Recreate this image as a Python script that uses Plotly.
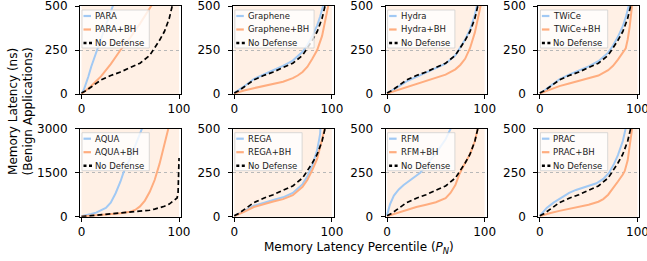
import plotly.graph_objects as go

# ---------------- data (percentile -> latency in ns) ----------------
ND_P = [0, 5, 10, 20, 30, 40, 50, 60, 70, 75, 80, 85, 90, 93, 95, 97, 98, 99, 99.5, 100]
ND_V = [5, 20, 40, 80, 105, 125, 150, 175, 220, 260, 305, 355, 430, 500, 540, 590, 640, 800, 1200, 2000]

PARA_P = [0, 2.5, 7, 10, 16, 24, 32, 36]
PARA_V = [0, 25, 98, 155, 250, 375, 500, 560]
PARA_BH_P = [0, 5, 10, 20, 30, 40, 50, 60, 72, 76]
PARA_BH_V = [0, 20, 45, 100, 170, 250, 320, 400, 500, 540]

GRAPHENE_P = [0, 5, 10, 20, 30, 40, 50, 60, 70, 75, 80, 85, 88, 91, 95, 100]
GRAPHENE_V = [5, 22, 43, 85, 112, 135, 160, 190, 240, 280, 330, 390, 440, 500, 650, 2000]
GRAPHENE_BH_P = [0, 5, 10, 20, 30, 40, 50, 60, 65, 70, 75, 80, 85, 90, 95, 97, 100]
GRAPHENE_BH_V = [3, 12, 20, 33, 45, 58, 70, 90, 105, 125, 155, 200, 250, 330, 450, 520, 2000]

HYDRA_P = [0, 5, 10, 20, 30, 40, 50, 60, 70, 75, 80, 85, 90, 92, 95, 100]
HYDRA_V = [4, 18, 36, 72, 97, 118, 143, 172, 220, 262, 310, 365, 450, 500, 620, 2000]
HYDRA_BH_P = [0, 5, 10, 20, 30, 40, 50, 60, 70, 75, 80, 85, 90, 95, 97, 100]
HYDRA_BH_V = [3, 12, 22, 40, 56, 72, 90, 110, 140, 165, 200, 260, 350, 460, 530, 2000]

TWICE_P = [0, 5, 10, 20, 30, 40, 50, 60, 70, 75, 80, 85, 88, 91, 95, 100]
TWICE_V = [5, 21, 42, 83, 110, 132, 157, 186, 235, 275, 325, 385, 435, 500, 640, 2000]
TWICE_BH_P = [0, 5, 10, 20, 30, 40, 50, 60, 70, 75, 80, 85, 88, 90, 92, 94, 96, 100]
TWICE_BH_V = [3, 14, 26, 45, 60, 75, 90, 105, 135, 160, 195, 235, 260, 310, 380, 480, 580, 2000]

AQUA_P = [0, 5, 10, 15, 20, 25, 30, 35, 40, 43, 50, 55, 62, 68]
AQUA_V = [20, 50, 90, 140, 210, 300, 480, 800, 1200, 1500, 2000, 2400, 3000, 3500]
AQUA_BH_P = [0, 10, 20, 30, 40, 50, 55, 60, 65, 70, 75, 80, 85, 89, 92]
AQUA_BH_V = [5, 30, 60, 90, 120, 170, 230, 350, 550, 850, 1250, 1800, 2450, 3000, 3400]

REGA_P = [0, 5, 10, 20, 30, 40, 50, 60, 70, 75, 80, 85, 88, 90, 95, 100]
REGA_V = [4, 16, 32, 62, 80, 95, 110, 135, 185, 230, 290, 380, 470, 560, 800, 2000]
REGA_BH_P = [0, 5, 10, 20, 30, 40, 50, 60, 70, 75, 80, 85, 90, 93, 95, 100]
REGA_BH_V = [3, 13, 27, 55, 72, 86, 100, 122, 170, 210, 265, 330, 440, 500, 560, 2000]

RFM_P = [0, 3, 7, 12, 17, 22, 27, 34, 40, 50, 60, 66, 72]
RFM_V = [10, 70, 120, 155, 180, 200, 222, 250, 290, 360, 440, 500, 580]
RFM_BH_P = [0, 5, 10, 20, 30, 40, 50, 60, 65, 70, 74, 78, 80, 85, 90, 93, 95, 100]
RFM_BH_V = [3, 12, 22, 40, 55, 68, 82, 105, 135, 180, 240, 285, 305, 355, 430, 500, 550, 2000]

PRAC_P = [0, 3, 7, 14, 20, 25, 30, 37, 45, 52, 58, 65, 71, 76, 80, 85, 88, 92]
PRAC_V = [5, 25, 50, 80, 100, 120, 135, 152, 165, 178, 190, 215, 250, 300, 350, 430, 500, 600]
PRAC_BH_P = [0, 5, 10, 20, 30, 40, 50, 60, 65, 70, 75, 80, 85, 87, 90, 93, 95, 100]
PRAC_BH_V = [3, 12, 20, 33, 45, 55, 68, 85, 100, 125, 160, 200, 240, 260, 320, 420, 520, 2000]

MECHANISMS = ["PARA", "Graphene", "Hydra", "TWiCe", "AQUA", "REGA", "RFM", "PRAC"]
DEF_SERIES = [(PARA_P, PARA_V), (GRAPHENE_P, GRAPHENE_V), (HYDRA_P, HYDRA_V), (TWICE_P, TWICE_V),
              (AQUA_P, AQUA_V), (REGA_P, REGA_V), (RFM_P, RFM_V), (PRAC_P, PRAC_V)]
BH_SERIES = [(PARA_BH_P, PARA_BH_V), (GRAPHENE_BH_P, GRAPHENE_BH_V), (HYDRA_BH_P, HYDRA_BH_V),
             (TWICE_BH_P, TWICE_BH_V), (AQUA_BH_P, AQUA_BH_V), (REGA_BH_P, REGA_BH_V),
             (RFM_BH_P, RFM_BH_V), (PRAC_BH_P, PRAC_BH_V)]

Y_TICKS = [0, 250, 500]
Y_TICKS_AQUA = [0, 1500, 3000]
X_TICKS = [0, 100]
SHADE_RANGE = [0, 100]

# ---------------- style ----------------
W, H = 647, 261
FONT = "DejaVu Sans"
BLUE = "#a1c9f4"
ORANGE = "#ffad7f"
BLACK = "#000000"
PEACH = "#fff0e5"
COL_LEFT = [80, 232.8, 385.6, 538.4]
ROW_TOP = [6, 128.7]
PW, PH = 101, 88
XR = [-1.5, 102]
LEG_FS = 8.5

CW = {'A': .684, 'B': .686, 'C': .698, 'D': .770, 'E': .632, 'F': .575, 'G': .775, 'H': .752,
      'M': .863, 'N': .748, 'P': .603, 'Q': .787, 'R': .695, 'T': .611, 'U': .732, 'W': .989,
      'a': .613, 'd': .635, 'e': .615, 'f': .352, 'h': .634, 'i': .278, 'n': .634, 'o': .612,
      'p': .635, 'r': .411, 's': .521, 'y': .592, '+': .838, ' ': .318}


def text_w(s, fs):
    return sum(CW.get(ch, 0.6) for ch in s) * fs


fig = go.Figure()
shapes = []
annotations = []

for i, name in enumerate(MECHANISMS):
    r, c = divmod(i, 4)
    k = i + 1
    sx = "" if k == 1 else str(k)
    xa, ya = "x" + sx, "y" + sx
    dp, dv = DEF_SERIES[i]
    bp, bv = BH_SERIES[i]
    labels = [name, name + "+BH", "No Defense"]
    fig.add_trace(go.Scatter(x=dp, y=dv, mode="lines", name=labels[0], showlegend=False,
                             line=dict(color=BLUE, width=2), xaxis=xa, yaxis=ya))
    fig.add_trace(go.Scatter(x=bp, y=bv, mode="lines", name=labels[1], showlegend=False,
                             line=dict(color=ORANGE, width=2), xaxis=xa, yaxis=ya))
    fig.add_trace(go.Scatter(x=ND_P, y=ND_V, mode="lines", name=labels[2], showlegend=False,
                             line=dict(color=BLACK, width=1.7, dash="5px,3px"), xaxis=xa, yaxis=ya))

    x0 = COL_LEFT[c] / W
    x1 = (COL_LEFT[c] + PW) / W
    y1 = 1 - ROW_TOP[r] / H
    y0 = 1 - (ROW_TOP[r] + PH) / H
    yt = Y_TICKS_AQUA if name == "AQUA" else Y_TICKS
    common = dict(showline=True, mirror=True, linecolor="black", linewidth=1,
                  ticks="outside", ticklen=4, tickwidth=1, tickcolor="black",
                  zeroline=False, automargin=False, ticklabeloverflow="allow",
                  tickfont=dict(family=FONT, size=12, color="black"))
    fig.layout["xaxis" + sx] = dict(domain=[x0, x1], anchor=ya, range=XR, tickvals=X_TICKS,
                                    showgrid=False, **common)
    fig.layout["yaxis" + sx] = dict(domain=[y0, y1], anchor=xa, range=[yt[0], yt[-1]], tickvals=yt,
                                    showgrid=True, gridcolor="#b8b8b8", griddash="dot", gridwidth=1,
                                    ticklabelstandoff=5, **common)

    # shaded percentile region
    shapes.append(dict(type="rect", xref=xa, yref=ya + " domain", x0=SHADE_RANGE[0], x1=SHADE_RANGE[1],
                       y0=0, y1=1, fillcolor=PEACH, line=dict(width=0), layer="below"))

    # legend box
    tw = max(text_w(s, LEG_FS) for s in labels)
    bw = 14 + tw + 4
    shapes.append(dict(type="rect", xref=xa + " domain", yref=ya + " domain",
                       x0=2 / PW, x1=(2 + bw) / PW, y0=1 - 42 / PH, y1=1 - 4 / PH,
                       fillcolor="rgba(255,255,255,0.8)", line=dict(color="#cfcfcf", width=0.8),
                       layer="above"))
    colors = [BLUE, ORANGE, BLACK]
    dashes = ["solid", "solid", "3px,2.5px"]
    for j, lab in enumerate(labels):
        yy = 1 - (10 + 13.5 * j) / PH
        shapes.append(dict(type="line", xref=xa + " domain", yref=ya + " domain",
                           x0=3.5 / PW, x1=(11 if j < 2 else 12) / PW, y0=yy, y1=yy,
                           line=dict(color=colors[j], width=2.2 if j < 2 else 2.5, dash=dashes[j]),
                           layer="above"))
        annotations.append(dict(xref=xa + " domain", yref=ya + " domain", x=13 / PW, y=yy,
                                xanchor="left", yanchor="middle", text=lab, showarrow=False,
                                font=dict(family=FONT, size=LEG_FS, color="#222")))

annotations.append(dict(xref="paper", yref="paper", x=20 / W, y=1 - 111.5 / H,
                        xanchor="center", yanchor="middle", textangle=-90, showarrow=False,
                        text="Memory Latency (ns)<br>(Benign Applications)",
                        font=dict(family=FONT, size=12, color="black")))
annotations.append(dict(xref="paper", yref="paper", x=359 / W, y=1 - 247.5 / H,
                        xanchor="center", yanchor="middle", showarrow=False,
                        text="Memory Latency Percentile (<i>P</i><sub><i>N</i></sub>)",
                        font=dict(family=FONT, size=12, color="black")))

fig.update_layout(width=W, height=H, margin=dict(l=0, r=0, t=0, b=0, autoexpand=False),
                  paper_bgcolor="white", plot_bgcolor="white", showlegend=False,
                  shapes=shapes, annotations=annotations,
                  font=dict(family=FONT, size=12, color="black"))

fig.write_html("out.html", config={"displayModeBar": False, "staticPlot": True},
               post_script="document.body.style.margin='0';document.body.style.overflow='hidden';")
